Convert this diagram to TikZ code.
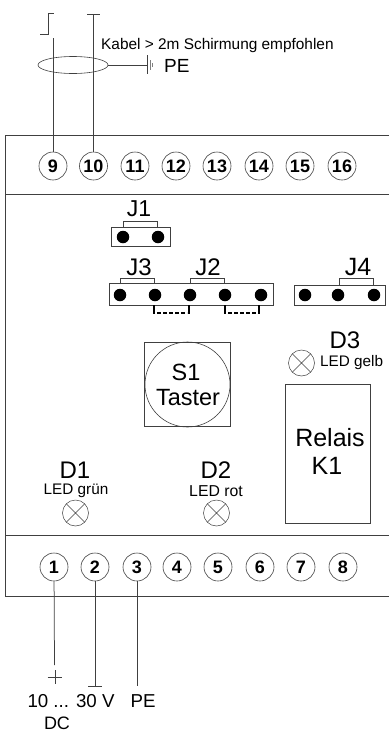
\documentclass[tikz,border=0pt]{standalone}
\usepackage{fontspec}
\setmainfont{Liberation Sans}
\usetikzlibrary{shapes.geometric}
\tikzset{
  x=1pt,y=-1pt,
  wire/.style={draw=black!75,line width=0.75pt},
  term/.style={circle,draw=black!75,line width=0.6pt,minimum size=28pt,inner sep=0pt,font=\fontsize{18}{18}\selectfont\bfseries},
  pin/.style={circle,fill=black,minimum size=12.5pt,inner sep=0pt},
  led/.style={circle,draw=black!75,line width=0.5pt,minimum size=26pt,inner sep=0pt,path picture={
    \draw[black!75,line width=0.5pt] (path picture bounding box.north west)--(path picture bounding box.south east)
      (path picture bounding box.north east)--(path picture bounding box.south west);}},
  lab/.style={inner sep=0pt,align=center,font=\fontsize{#1}{#1}\selectfont},
  lab/.default=18,
}
\begin{document}
\begin{tikzpicture}
\useasboundingbox (0,0) rectangle (389,731);
% housing
\draw[wire] (389,135)--(5.5,135)--(5.5,596)--(389,596);
\draw[wire] (5.5,194.5)--(389,194.5);
\draw[wire] (5.5,535)--(389,535);
% terminals
\foreach \n/\x in {9/53,10/93.5,11/135,12/176,13/217,14/259,15/300,16/342}
  \node[term] (t\n) at (\x,166) {\n};
\foreach \n/\x in {1/54,2/95,3/137,4/177,5/218,6/260,7/301,8/343}
  \node[term] (t\n) at (\x,567) {\n};
% top wiring
\coordinate (w9) at (53,38);
\coordinate (w10) at (93.5,14);
\draw[wire] (t9)--(w9);
\draw[wire] (t10)--(w10);
\draw[wire] (40,34)--(48,34)--(48,13)--(54,13);
\draw[wire] (87,14)--(100,14);
\node[draw=black!75,line width=0.6pt,ellipse,minimum width=70pt,minimum height=17pt,inner sep=0pt] (shield) at (73,65) {};
\coordinate (gnd) at (147,65);
\draw[wire] (shield)--(gnd);
\draw[wire,line width=0.9pt] (147,55)--(147,74);
\draw[black!50,line width=0.7pt] (150,60)--(150,70) (152.5,63)--(152.5,67);
\node[lab=15.4,anchor=west] (cablelab) at (101,46) {Kabel > 2m Schirmung empfohlen};
\node[lab=19,anchor=west] (pelab) at (164,66) {PE};
% jumpers
\draw[wire] (111,227)rectangle(170,246);
\node[lab=23] (j1) at (139,209) {J1};
\node[pin] (a1) at (123,237) {};
\node[pin] (a2) at (158,237) {};
\draw[wire] (123,227)--(123,221)--(157,221)--(157,227);
\draw[wire] (109.5,283.5)rectangle(273,305.5);
\node[pin] (b1) at (120,295) {};
\node[pin] (b2) at (155,295) {};
\node[pin] (b3) at (190,295) {};
\node[pin] (b4) at (225,295) {};
\node[pin] (b5) at (261,295) {};
\node[lab=24] (j3) at (139,267) {J3};
\node[lab=24] (j2) at (208,267) {J2};
\draw[wire] (120,284)--(120,278)--(154,278)--(154,284);
\draw[wire] (190,284)--(190,278)--(224,278)--(224,284);
\draw[wire] (294,285)rectangle(385,305.5);
\node[pin] (c1) at (305,295) {};
\node[pin] (c2) at (338,295) {};
\node[pin] (c3) at (374,295) {};
\node[lab=25] (j4) at (358,267) {J4};
\draw[wire] (339,285)--(339,278)--(373,278)--(373,285);
\draw[black,line width=1.5pt] (154,305)--(154,313.5) (189,305)--(189,313.5) (225,305)--(225,313.5) (259,305)--(259,313.5);
\draw[black,line width=2pt,dash pattern=on 4pt off 2pt] (157,312.5)--(187,312.5);
\draw[black,line width=2pt,dash pattern=on 4pt off 2pt] (228,312.5)--(258,312.5);
% S1
\draw[wire] (144.5,342.5)rectangle(230.5,426.5);
\node[circle,draw=black!75,line width=0.6pt,minimum size=85pt,inner sep=0pt] (s1) at (187.5,384.5) {};
\node[lab=23.5] (s1a) at (186,372) {S1};
\node[lab=23.5] (s1b) at (188,398) {Taster};
% LEDs
\node[led] (d3) at (301.5,363) {};
\node[lab=24] (d3a) at (345,340) {D3};
\node[lab=15.3,anchor=west] (d3b) at (320,362.5) {LED gelb};
\node[led] (d1) at (75.5,513) {};
\node[lab=24] (d1a) at (75,470) {D1};
\node[lab=15.3] (d1b) at (76,491) {LED grün};
\node[led] (d2) at (216.5,513) {};
\node[lab=24] (d2a) at (216,470) {D2};
\node[lab=15.8] (d2b) at (216,491) {LED rot};
% relay
\draw[wire] (285.5,384)rectangle(370,523);
\node[lab=25] (k1a) at (330,438) {Relais};
\node[lab=25] (k1b) at (327,466) {K1};
% bottom wiring
\coordinate (w1) at (54.5,665);
\coordinate (w2) at (95,686);
\coordinate (w3) at (137,686);
\draw[wire] (t1)--(w1);
\draw[wire] (t2)--(w2);
\draw[wire] (t3)--(w3);
\draw[wire] (88,686)--(102,686);
\draw[wire] (47.5,677)--(62,677) (55,670)--(55,684);
\node[lab=18.7] (v) at (71,701) {10 ... 30 V};
\node[lab=18.7] (pe2) at (143,701) {PE};
\node[lab=18,anchor=base] (dc) at (57,729) {DC};
\end{tikzpicture}
\end{document}
